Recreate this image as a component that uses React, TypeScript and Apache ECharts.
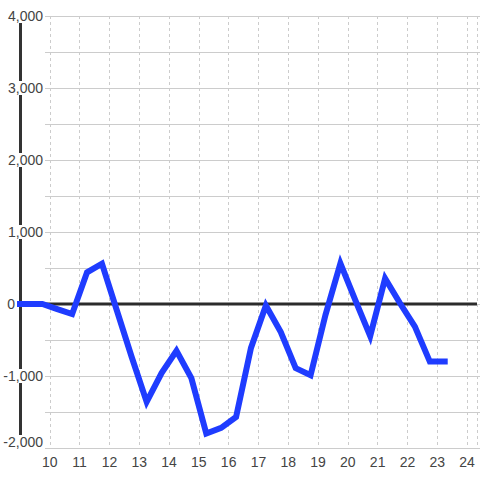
import React, { useEffect, useRef } from "react";
import * as echarts from "echarts";

const xValues = [9, 9.75, 10.25, 10.75, 11.25, 11.75, 12.25, 12.75, 13.25, 13.75, 14.25, 14.75, 15.25, 15.75, 16.25, 16.75, 17.25, 17.75, 18.25, 18.75, 19.25, 19.75, 20.25, 20.75, 21.25, 21.75, 22.25, 22.75, 23.25];
const yValues = [0, 0, -70, -140, 440, 560, -90, -740, -1360, -960, -650, -1030, -1800, -1720, -1570, -610, -20, -390, -890, -990, -150, 565, 55, -445, 355, 10, -315, -800, -800];
const xMin = 9;
const xMax = 24.3333;
const yMin = -2000;
const yMax = 4000;

const BG = "#ffffff";
const TEXT = "#444444";
const FONT = "Liberation Sans, Arial, sans-serif";

export default function App() {
  const ref = useRef<HTMLDivElement>(null);
  useEffect(() => {
    const chart = echarts.init(ref.current!, null, { renderer: "svg" });
    const fmt = (v: number) => v.toLocaleString("en-US");
    const richBase = { fontSize: 14, fontFamily: FONT, color: TEXT, lineHeight: 14 };
    chart.setOption({
      animation: false,
      backgroundColor: BG,
      grid: [
        { left: 45, right: 0, top: 16, bottom: 32 },
        { left: 20, right: 0, top: 16, bottom: 32 },
      ],
      xAxis: [
        { gridIndex: 0, type: "value", min: xMin, max: xMax, show: false },
        {
          gridIndex: 1,
          type: "value",
          min: xMin,
          max: xMax,
          interval: 1,
          axisLine: { show: false, onZero: false },
          axisTick: { show: false },
          splitLine: { show: true, lineStyle: { color: "#cccccc", width: 1, type: [3, 3] } },
          axisLabel: {
            margin: 7,
            fontSize: 14,
            fontFamily: FONT,
            color: TEXT,
            formatter: (v: number) => (v >= 10 && Number.isInteger(v) ? String(v) : ""),
          },
        },
      ],
      yAxis: [
        {
          gridIndex: 0,
          type: "value",
          min: yMin,
          max: yMax,
          interval: 500,
          axisLine: { show: false },
          axisTick: { show: false },
          axisLabel: { show: false },
          splitLine: { show: true, lineStyle: { color: "#cccccc", width: 1 } },
        },
        {
          gridIndex: 1,
          type: "value",
          min: yMin,
          max: yMax,
          interval: 1000,
          axisLine: { show: true, onZero: false, lineStyle: { color: "#333333", width: 3 } },
          axisTick: { show: false },
          splitLine: { show: false },
          axisLabel: {
            margin: -23,
            fontSize: 14,
            fontFamily: FONT,
            color: TEXT,
            formatter: (v: number) => {
              if (v === 0) return "{z|0}";
              if (v === yMin) return "{m|" + fmt(v) + "}";
              return "{a|" + fmt(v) + "}";
            },
            rich: {
              a: { ...richBase, backgroundColor: BG },
              z: { ...richBase, padding: [0, 28, 0, 0] },
              m: { ...richBase, backgroundColor: BG, padding: [0, 0, 12, 0] },
            },
          },
        },
      ],
      series: [
        {
          type: "line",
          xAxisIndex: 1,
          yAxisIndex: 1,
          z: 1,
          silent: true,
          symbol: "none",
          data: [[xMin, 0], [xMax, 0]],
          lineStyle: { color: "#2b2b2b", width: 3 },
        },
        {
          type: "line",
          xAxisIndex: 1,
          yAxisIndex: 1,
          z: 3,
          symbol: "none",
          data: xValues.map((x, i) => [x, yValues[i]]),
          lineStyle: { color: "#1f3cff", width: 6, cap: "square", join: "miter" },
        },
      ],
    });
    return () => chart.dispose();
  }, []);
  return (
    <div
      ref={ref}
      style={{ position: "absolute", left: 0, top: 0, width: 480, height: 480 }}
    />
  );
}
